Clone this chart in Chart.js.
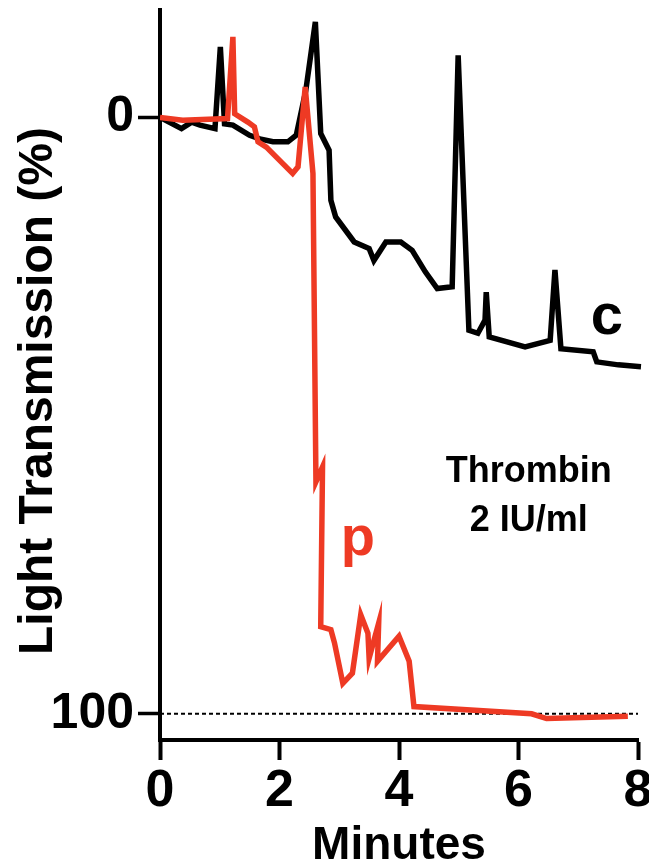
<!DOCTYPE html>
<html>
<head>
<meta charset="utf-8">
<script src="https://cdn.jsdelivr.net/npm/chart.js@4/dist/chart.umd.min.js"></script>
<style>
  html, body { margin: 0; padding: 0; background: #fff; }
  canvas { display: block; }
</style>
</head>
<body>
<canvas id="grafico" width="649" height="864"></canvas>
<script>
// Curva control (c), negra
const cMinutos = [0, 0.36, 0.53, 0.67, 0.92, 1.01, 1.08, 1.22, 1.5, 1.67, 1.89, 2.14, 2.28, 2.44, 2.6, 2.69, 2.83, 2.86, 2.94, 3.25, 3.5, 3.58, 3.78, 4.03, 4.22, 4.44, 4.64, 4.89, 4.99, 5.17, 5.32, 5.44, 5.46, 5.51, 6.11, 6.53, 6.61, 6.71, 7.25, 7.31, 7.67, 8.05];
const cTransm = [0, 1.9, 0.8, 1.3, 1.9, -11.8, 1.1, 1.3, 3.0, 3.6, 4.1, 4.1, 3.0, -4.5, -16, 2.7, 5.5, 13.9, 16.7, 20.9, 22, 24, 20.9, 20.9, 22.3, 25.9, 28.7, 28.4, -10.4, 35.7, 36.2, 34, 29.3, 36.8, 38.5, 37.4, 25.6, 38.8, 39.3, 41, 41.5, 41.8];

// Curva p, roja
const pMinutos = [0, 0.38, 1.13, 1.22, 1.25, 1.47, 1.58, 1.64, 1.78, 2.06, 2.22, 2.31, 2.43, 2.56, 2.61, 2.72, 2.69, 2.86, 2.92, 3.06, 3.22, 3.36, 3.48, 3.5, 3.66, 3.64, 4.0, 4.17, 4.25, 6.22, 6.47, 7.83];
const pTransm = [0, 0.5, 0.2, -13.5, -0.6, 0.8, 1.6, 4.1, 5.0, 7.8, 9.4, 8.3, -5.1, 9.4, 61.1, 58.6, 85.4, 85.9, 88.1, 94.9, 93.2, 83.4, 86.5, 90.7, 84.8, 91.2, 87.0, 91.2, 98.8, 100.0, 100.8, 100.4];

// Linea de referencia al 100 %
const refMinutos = [0, 8];
const refTransm = [100, 100];

const xTicks = [0, 2, 4, 6, 8];
const yTicks = [0, 100];

// Textos dentro del grafico
const notaTextos = ['c', 'p', 'Thrombin', '2 IU/ml'];
const notaX = [7.48, 3.31, 6.17, 6.17];
const notaY = [36.3, 73.3, 61.2, 69.4];

const ROJO = '#ee3a24';
const FUENTE = '"Liberation Sans", Arial, Helvetica, sans-serif';

function puntos(xs, ys) {
  return xs.map((x, i) => ({ x: x, y: ys[i] }));
}

// quitar el relleno automatico que Chart.js deja para las etiquetas
function sinRelleno(s) {
  s.paddingTop = 0;
  s.paddingBottom = 0;
  s.paddingLeft = 0;
  s.paddingRight = 0;
}

const notas = {
  id: 'notas',
  afterDatasetsDraw(chart) {
    const ctx = chart.ctx;
    const sx = chart.scales.x;
    const sy = chart.scales.y;
    const estilos = [
      { font: 'bold 58px ' + FUENTE, color: '#000' },
      { font: 'bold 56px ' + FUENTE, color: ROJO },
      { font: 'bold 36px ' + FUENTE, color: '#000' },
      { font: 'bold 36px ' + FUENTE, color: '#000' }
    ];
    ctx.save();
    ctx.textAlign = 'center';
    ctx.textBaseline = 'alphabetic';
    notaTextos.forEach((t, i) => {
      ctx.font = estilos[i].font;
      ctx.fillStyle = estilos[i].color;
      ctx.fillText(t, sx.getPixelForValue(notaX[i]), sy.getPixelForValue(notaY[i]));
    });
    // titulo del eje Y
    ctx.translate(52, 391);
    ctx.rotate(-Math.PI / 2);
    ctx.font = 'bold 48px ' + FUENTE;
    ctx.fillStyle = '#000';
    ctx.fillText('Light Transmission (%)', 0, 0);
    ctx.restore();
  }
};

new Chart(document.getElementById('grafico').getContext('2d'), {
  type: 'line',
  data: {
    datasets: [
      {
        label: 'p',
        data: puntos(pMinutos, pTransm),
        borderColor: ROJO,
        borderWidth: 5.5,
        pointRadius: 0,
        tension: 0,
        borderJoinStyle: 'miter'
      },
      {
        label: 'c',
        data: puntos(cMinutos, cTransm),
        borderColor: '#000',
        borderWidth: 5.5,
        pointRadius: 0,
        tension: 0,
        clip: false,
        borderJoinStyle: 'miter'
      },
      {
        label: 'ref',
        data: puntos(refMinutos, refTransm),
        borderColor: '#000',
        borderWidth: 2,
        borderDash: [4, 3],
        pointRadius: 0
      }
    ]
  },
  options: {
    responsive: false,
    animation: false,
    events: [],
    layout: { padding: { top: 10, right: 11, left: 0, bottom: 0 } },
    plugins: {
      legend: { display: false },
      tooltip: { enabled: false }
    },
    scales: {
      x: {
        type: 'linear',
        min: 0,
        max: 8,
        afterBuildTicks: (s) => { s.ticks = xTicks.map(v => ({ value: v })); },
        afterFit: (s) => { s.height = 124; sinRelleno(s); },
        border: { display: true, color: '#000', width: 4 },
        grid: { drawOnChartArea: false, drawTicks: true, tickLength: 20, tickWidth: 4, tickColor: '#000' },
        ticks: {
          color: '#000',
          padding: 6,
          maxRotation: 0,
          font: { family: FUENTE, size: 52, weight: 'bold', lineHeight: 1 }
        },
        title: {
          display: true,
          text: 'Minutes',
          color: '#000',
          padding: { top: 0, bottom: 0 },
          font: { family: FUENTE, size: 46, weight: 'bold', lineHeight: 0.76 }
        }
      },
      y: {
        type: 'linear',
        reverse: true,
        min: -18,
        max: 104.4,
        afterBuildTicks: (s) => { s.ticks = yTicks.map(v => ({ value: v })); },
        afterFit: (s) => { s.width = 160; sinRelleno(s); },
        border: { display: true, color: '#000', width: 4 },
        grid: { drawOnChartArea: false, drawTicks: true, tickLength: 22, tickWidth: 3.5, tickColor: '#000' },
        ticks: {
          color: '#000',
          padding: 4,
          font: { family: FUENTE, size: 50, weight: 'bold', lineHeight: 1 }
        }
      }
    }
  },
  plugins: [notas]
});
</script>
</body>
</html>
